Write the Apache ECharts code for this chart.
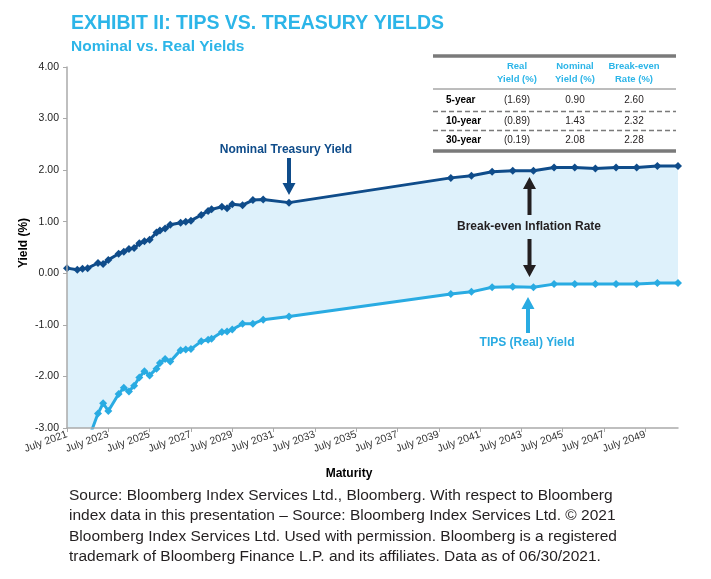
<!DOCTYPE html>
<html>
<head>
<meta charset="utf-8">
<script src="https://cdn.jsdelivr.net/npm/echarts@6/dist/echarts.min.js"></script>
<style>
	html, body { margin: 0; padding: 0; background: #fff; }
	#chart { width: 711px; height: 579px; }
</style>
</head>
<body>
<div id="chart"></div>
<script>
// maturity (year-month) of each bond on the curve
const maturities = [
	'2021-07', '2022-01', '2022-04', '2022-07', '2023-01', '2023-04', '2023-07', '2024-01', '2024-04', '2024-07',
	'2024-10', '2025-01', '2025-04', '2025-07', '2025-11', '2026-01', '2026-04', '2026-07', '2027-01', '2027-04',
	'2027-07', '2028-01', '2028-05', '2028-07', '2029-01', '2029-04', '2029-07', '2030-01', '2030-07', '2031-01',
	'2032-04', '2040-02', '2041-02', '2042-02', '2043-02', '2044-02', '2045-02', '2046-02', '2047-02', '2048-02',
	'2049-02', '2050-02', '2051-02'
];
const nominalYield = [
	0.10, 0.07, 0.09, 0.10, 0.20, 0.18, 0.26, 0.38, 0.42, 0.47,
	0.49, 0.58, 0.62, 0.65, 0.79, 0.83, 0.87, 0.94, 0.98, 1.00,
	1.02, 1.13, 1.21, 1.24, 1.29, 1.26, 1.34, 1.32, 1.42, 1.43,
	1.37, 1.85, 1.89, 1.97, 1.99, 1.99, 2.05, 2.05, 2.03, 2.05,
	2.05, 2.08, 2.08
];
const realYield = [
	-4.60, -3.90, -3.60, -3.26, -2.72, -2.52, -2.67, -2.34, -2.22, -2.29,
	-2.18, -2.02, -1.90, -1.98, -1.85, -1.74, -1.66, -1.71, -1.49, -1.48,
	-1.47, -1.32, -1.29, -1.27, -1.14, -1.13, -1.09, -0.98, -0.98, -0.90,
	-0.84, -0.40, -0.36, -0.27, -0.26, -0.27, -0.21, -0.21, -0.21, -0.21,
	-0.21, -0.19, -0.19
];
const tickLabels = [
	'July 2021', 'July 2023', 'July 2025', 'July 2027', 'July 2029', 'July 2031', 'July 2033', 'July 2035',
	'July 2037', 'July 2039', 'July 2041', 'July 2043', 'July 2045', 'July 2047', 'July 2049'
];
const tableRows = ['5-year', '10-year', '30-year'];
const tableReal = ['(1.69)', '(0.89)', '(0.19)'];
const tableNominal = ['0.90', '1.43', '2.08'];
const tableBreakeven = ['2.60', '2.32', '2.28'];
const sourceLines = [
	'Source: Bloomberg Index Services Ltd., Bloomberg. With respect to Bloomberg',
	'index data in this presentation \u2013 Source: Bloomberg Index Services Ltd. \u00a9 2021',
	'Bloomberg Index Services Ltd. Used with permission. Bloomberg is a registered',
	'trademark of Bloomberg Finance L.P. and its affiliates. Data as of 06/30/2021.'
];

const FONT = 'Arial, "Liberation Sans", sans-serif';
const NAVY = '#0f4c8a';
const SKY = '#29abe2';
const TITLE_BLUE = '#2cb5e8';
const INK = '#231f20';
const FILL = '#def1fb';

// years since July 2021
const toYears = (m) => {
	const [y, mo] = m.split('-').map(Number);
	return y + (mo - 7) / 12 - 2021;
};
const xs = maturities.map(toYears);
const tickValues = tickLabels.map((l) => Number(l.slice(5)) - 2021);

const nominalData = xs.map((x, i) => [x, nominalYield[i]]);
const realData = xs.map((x, i) => [x, realYield[i]]);

const arrow = (x, yTip, yTail, color) => {
	const dir = yTail > yTip ? 1 : -1;
	const headLen = 12;
	const headW = 6.5;
	const shaftW = 2;
	const yBase = yTip + dir * headLen;
	return {
		type: 'polygon',
		shape: {
			points: [
				[x, yTip], [x + headW, yBase], [x + shaftW, yBase], [x + shaftW, yTail],
				[x - shaftW, yTail], [x - shaftW, yBase], [x - headW, yBase]
			]
		},
		style: { fill: color },
		z: 20
	};
};
const text = (x, y, str, opts) => ({
	type: 'text',
	x,
	y,
	z: 20,
	style: Object.assign({
		text: str,
		font: '12px ' + FONT,
		fill: INK,
		textAlign: 'left',
		textVerticalAlign: 'middle'
	}, opts || {})
});
const hline = (y, width, dash) => ({
	type: 'line',
	shape: { x1: 433, y1: y, x2: 676, y2: y },
	style: { stroke: '#7a7a7a', lineWidth: width, lineDash: dash || null },
	z: 20
});

const graphics = [];
// table
graphics.push(hline(56, 3.5));
graphics.push(hline(89, 1));
graphics.push(hline(111.5, 1.5, [5, 3]));
graphics.push(hline(130.5, 1.5, [5, 3]));
graphics.push(hline(151, 3.5));
const headFont = 'bold 9.5px ' + FONT;
[['Real', 'Yield (%)', 517], ['Nominal', 'Yield (%)', 575], ['Break-even', 'Rate (%)', 634]].forEach(([a, b, cx]) => {
	graphics.push(text(cx, 66, a, { font: headFont, fill: TITLE_BLUE, textAlign: 'center' }));
	graphics.push(text(cx, 79, b, { font: headFont, fill: TITLE_BLUE, textAlign: 'center' }));
});
const rowYs = [100.5, 121, 140.5];
tableRows.forEach((r, i) => {
	graphics.push(text(446, rowYs[i], r, { font: 'bold 10px ' + FONT, fill: '#000' }));
	graphics.push(text(517, rowYs[i], tableReal[i], { font: '10px ' + FONT, textAlign: 'center' }));
	graphics.push(text(575, rowYs[i], tableNominal[i], { font: '10px ' + FONT, textAlign: 'center' }));
	graphics.push(text(634, rowYs[i], tableBreakeven[i], { font: '10px ' + FONT, textAlign: 'center' }));
});
// annotations
graphics.push(text(286, 150, 'Nominal Treasury Yield', { font: 'bold 12px ' + FONT, fill: NAVY, textAlign: 'center' }));
graphics.push(arrow(289, 195, 158, NAVY));
graphics.push(text(529, 227, 'Break-even Inflation Rate', { font: 'bold 12px ' + FONT, fill: INK, textAlign: 'center' }));
graphics.push(arrow(529.5, 177, 215, INK));
graphics.push(arrow(529.5, 277, 239, INK));
graphics.push(text(527, 343, 'TIPS (Real) Yield', { font: 'bold 12px ' + FONT, fill: SKY, textAlign: 'center' }));
graphics.push(arrow(528, 297, 333, SKY));
// axis titles
graphics.push(text(349, 474, 'Maturity', { font: 'bold 12px ' + FONT, fill: '#000', textAlign: 'center' }));
graphics.push({
	type: 'text',
	x: 24,
	y: 243,
	rotation: Math.PI / 2,
	z: 20,
	style: { text: 'Yield (%)', font: 'bold 12px ' + FONT, fill: '#000', textAlign: 'center', textVerticalAlign: 'middle' }
});
// source note
sourceLines.forEach((line, i) => {
	graphics.push(text(69, 496 + i * 20.2, line, { font: '15.5px ' + FONT, fill: INK }));
});

const chart = echarts.init(document.getElementById('chart'));
chart.setOption({
	animation: false,
	textStyle: { fontFamily: FONT },
	title: {
		text: 'EXHIBIT II: TIPS VS. TREASURY YIELDS',
		subtext: 'Nominal vs. Real Yields',
		left: 66,
		top: 9,
		itemGap: 5,
		textStyle: { fontSize: 19.5, fontWeight: 'bold', color: TITLE_BLUE, fontFamily: FONT },
		subtextStyle: { fontSize: 15.5, fontWeight: 'bold', color: TITLE_BLUE, fontFamily: FONT }
	},
	grid: { left: 67, right: 33, top: 67, bottom: 151, containLabel: false },
	xAxis: {
		type: 'value',
		min: 0,
		max: 'dataMax',
		z: 10,
		splitLine: { show: false },
		axisLine: { onZero: false, lineStyle: { color: '#aaaaaa', width: 1.5 } },
		axisTick: { show: true, length: 4, lineStyle: { color: '#aaaaaa' }, customValues: tickValues },
		axisLabel: {
			customValues: tickValues,
			rotate: 20,
			fontSize: 10.5,
			color: '#333',
			margin: 6,
			formatter: (v) => tickLabels[tickValues.indexOf(v)] || ''
		}
	},
	yAxis: {
		type: 'value',
		min: -3,
		max: 4,
		interval: 1,
		z: 10,
		splitLine: { show: false },
		axisLine: { show: true, onZero: false, lineStyle: { color: '#aaaaaa', width: 1.5 } },
		axisTick: { show: true, length: 4, lineStyle: { color: '#aaaaaa' } },
		axisLabel: { fontSize: 10.5, color: '#222', margin: 8, formatter: (v) => v.toFixed(2) }
	},
	graphic: graphics,
	series: [
		{
			// light-blue band: fill under the nominal curve ...
			name: 'band top',
			type: 'line',
			data: nominalData,
			symbol: 'none',
			lineStyle: { opacity: 0 },
			areaStyle: { color: FILL, opacity: 1, origin: 'start' },
			silent: true,
			z: 1
		},
		{
			// ... then blank out everything under the real curve
			name: 'band bottom',
			type: 'line',
			data: realData,
			symbol: 'none',
			lineStyle: { opacity: 0 },
			areaStyle: { color: '#ffffff', opacity: 1, origin: 'start' },
			silent: true,
			z: 2
		},
		{
			name: 'Nominal Treasury Yield',
			type: 'line',
			data: nominalData,
			symbol: 'diamond',
			symbolSize: 8,
			itemStyle: { color: NAVY },
			lineStyle: { color: NAVY, width: 3 },
			z: 5
		},
		{
			name: 'TIPS (Real) Yield',
			type: 'line',
			data: realData,
			symbol: 'diamond',
			symbolSize: 8,
			itemStyle: { color: SKY },
			lineStyle: { color: SKY, width: 3 },
			z: 5
		}
	]
});
</script>
</body>
</html>
